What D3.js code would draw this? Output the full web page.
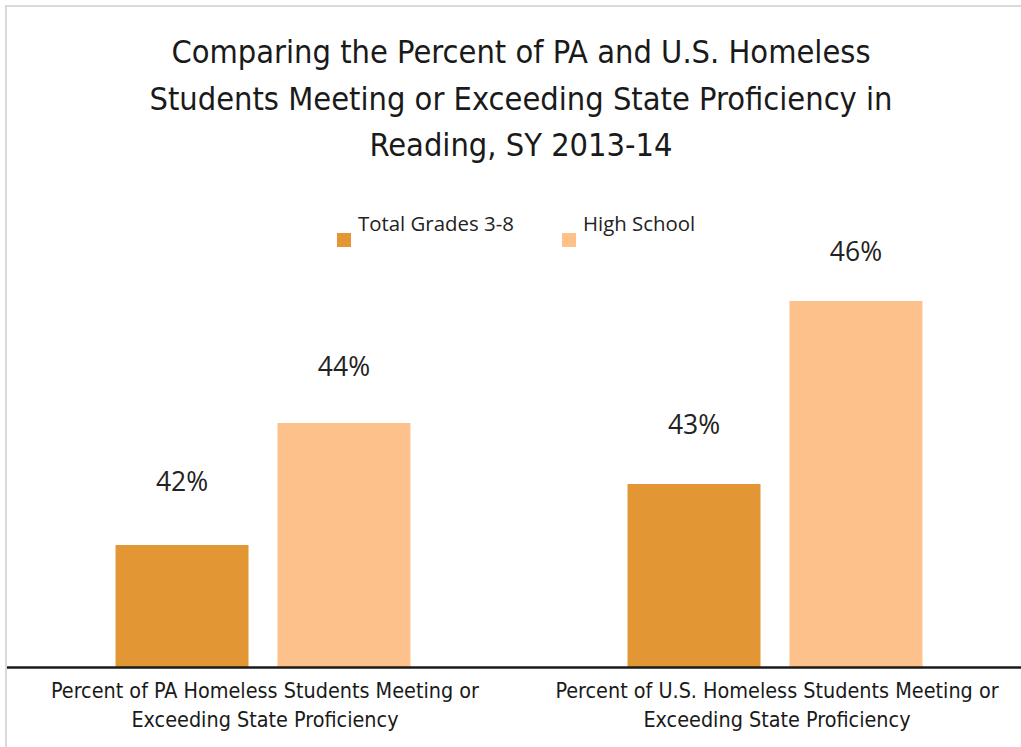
<!DOCTYPE html>
<html>
<head>
<meta charset="utf-8">
<script src="https://cdn.jsdelivr.net/npm/d3@7"></script>
<style>
  html, body { margin: 0; padding: 0; background: #fff; }
  svg { display: block; }
</style>
</head>
<body>
<svg id="chart" width="1021" height="747"></svg>
<script>
// ---- Data ----
const titleLines = [
  "Comparing the Percent of PA and U.S. Homeless",
  "Students Meeting or Exceeding State Proficiency in",
  "Reading, SY 2013-14"
];
const categories = [
  "Percent of PA Homeless Students Meeting or Exceeding State Proficiency",
  "Percent of U.S. Homeless Students Meeting or Exceeding State Proficiency"
];
const categoryLines = [
  ["Percent of PA Homeless Students Meeting or", "Exceeding State Proficiency"],
  ["Percent of U.S. Homeless Students Meeting or", "Exceeding State Proficiency"]
];
const seriesNames = ["Total Grades 3-8", "High School"];
const grades38 = [42, 43];
const highSchool = [44, 46];
const yDomain = [40, 47];

// ---- Layout ----
const W = 1021, H = 747;
const svg = d3.select("#chart");
const colors = ["#E29634", "#FDC18B"];
const titleFont = "'Liberation Sans Narrow', 'Arial Narrow', 'DejaVu Sans Condensed', sans-serif";
const uiFont = "'Open Sans', 'Noto Sans', sans-serif";

// frame (clipped by the picture on right/bottom)
svg.append("rect")
  .attr("x", 6).attr("y", 6)
  .attr("width", W + 20).attr("height", H + 20)
  .attr("fill", "none").attr("stroke", "#d9d9d9").attr("stroke-width", 2);

// title
svg.append("g").selectAll("text").data(titleLines).join("text")
  .attr("x", 521).attr("y", (d, i) => 63 + i * 46.5)
  .attr("text-anchor", "middle")
  .attr("font-family", titleFont)
  .attr("font-size", 32.3)
  .attr("fill", "#1a1a1a")
  .text(d => d);

const plot = { left: 7, right: 1031, top: 240, bottom: 667 };

const x0 = d3.scaleBand().domain(categories).range([plot.left, plot.right]).paddingInner(0.424).paddingOuter(0.212);
const x1 = d3.scaleBand().domain(seriesNames).range([0, x0.bandwidth()]).paddingInner(0.179);
const y = d3.scaleLinear().domain(yDomain).range([plot.bottom, plot.bottom - 61 * (yDomain[1] - yDomain[0])]);
// data labels sit on a slightly compressed scale (as in the original)
const yLabel = d3.scaleLinear().domain(yDomain).range([597, 597 - 57.5 * (yDomain[1] - yDomain[0])]);

const rows = categories.map((c, i) => ({ cat: c, vals: [grades38[i], highSchool[i]] }));

const groups = svg.append("g").selectAll("g").data(rows).join("g")
  .attr("transform", d => `translate(${x0(d.cat)},0)`);

groups.selectAll("rect").data(d => d.vals.map((v, j) => ({ s: seriesNames[j], v, j }))).join("rect")
  .attr("x", d => x1(d.s))
  .attr("width", x1.bandwidth())
  .attr("y", d => y(d.v))
  .attr("height", d => y(yDomain[0]) - y(d.v))
  .attr("fill", d => colors[d.j]);

groups.selectAll("text.lbl").data(d => d.vals.map((v, j) => ({ s: seriesNames[j], v, j }))).join("text")
  .attr("class", "lbl")
  .attr("x", d => x1(d.s) + x1.bandwidth() / 2)
  .attr("y", d => yLabel(d.v) + 9)
  .attr("text-anchor", "middle")
  .attr("font-family", uiFont)
  .attr("font-size", 26.5)
  .attr("fill", "#222")
  .text(d => d.v + "%");

// x axis
const xAxis = svg.append("g").attr("transform", `translate(0,${plot.bottom})`)
  .call(d3.axisBottom(x0).tickSize(0).tickFormat(""));
xAxis.select(".domain").attr("d", `M${plot.left},0.5H${W}`).attr("stroke", "#1a1a1a").attr("stroke-width", 2.5);

// category labels
const catG = svg.append("g").selectAll("text").data(categories).join("text")
  .attr("text-anchor", "middle")
  .attr("font-family", titleFont)
  .attr("font-size", 21.4)
  .attr("fill", "#1a1a1a");
catG.selectAll("tspan").data((d, i) => categoryLines[i].map(t => ({ t, c: d }))).join("tspan")
  .attr("x", d => x0(d.c) + x0.bandwidth() / 2 + 2)
  .attr("y", (d, k) => 698 + k * 29)
  .text(d => d.t);

// legend
const legendX = [337, 562];
const leg = svg.append("g").selectAll("g").data(seriesNames).join("g")
  .attr("transform", (d, i) => `translate(${legendX[i]},0)`);
leg.append("rect").attr("x", 0).attr("y", 233).attr("width", 14).attr("height", 14)
  .attr("fill", (d, i) => colors[i]);
leg.append("text").attr("x", 21).attr("y", 231)
  .attr("font-family", uiFont).attr("font-size", 20.4).attr("fill", "#222")
  .text(d => d);
</script>
</body>
</html>
